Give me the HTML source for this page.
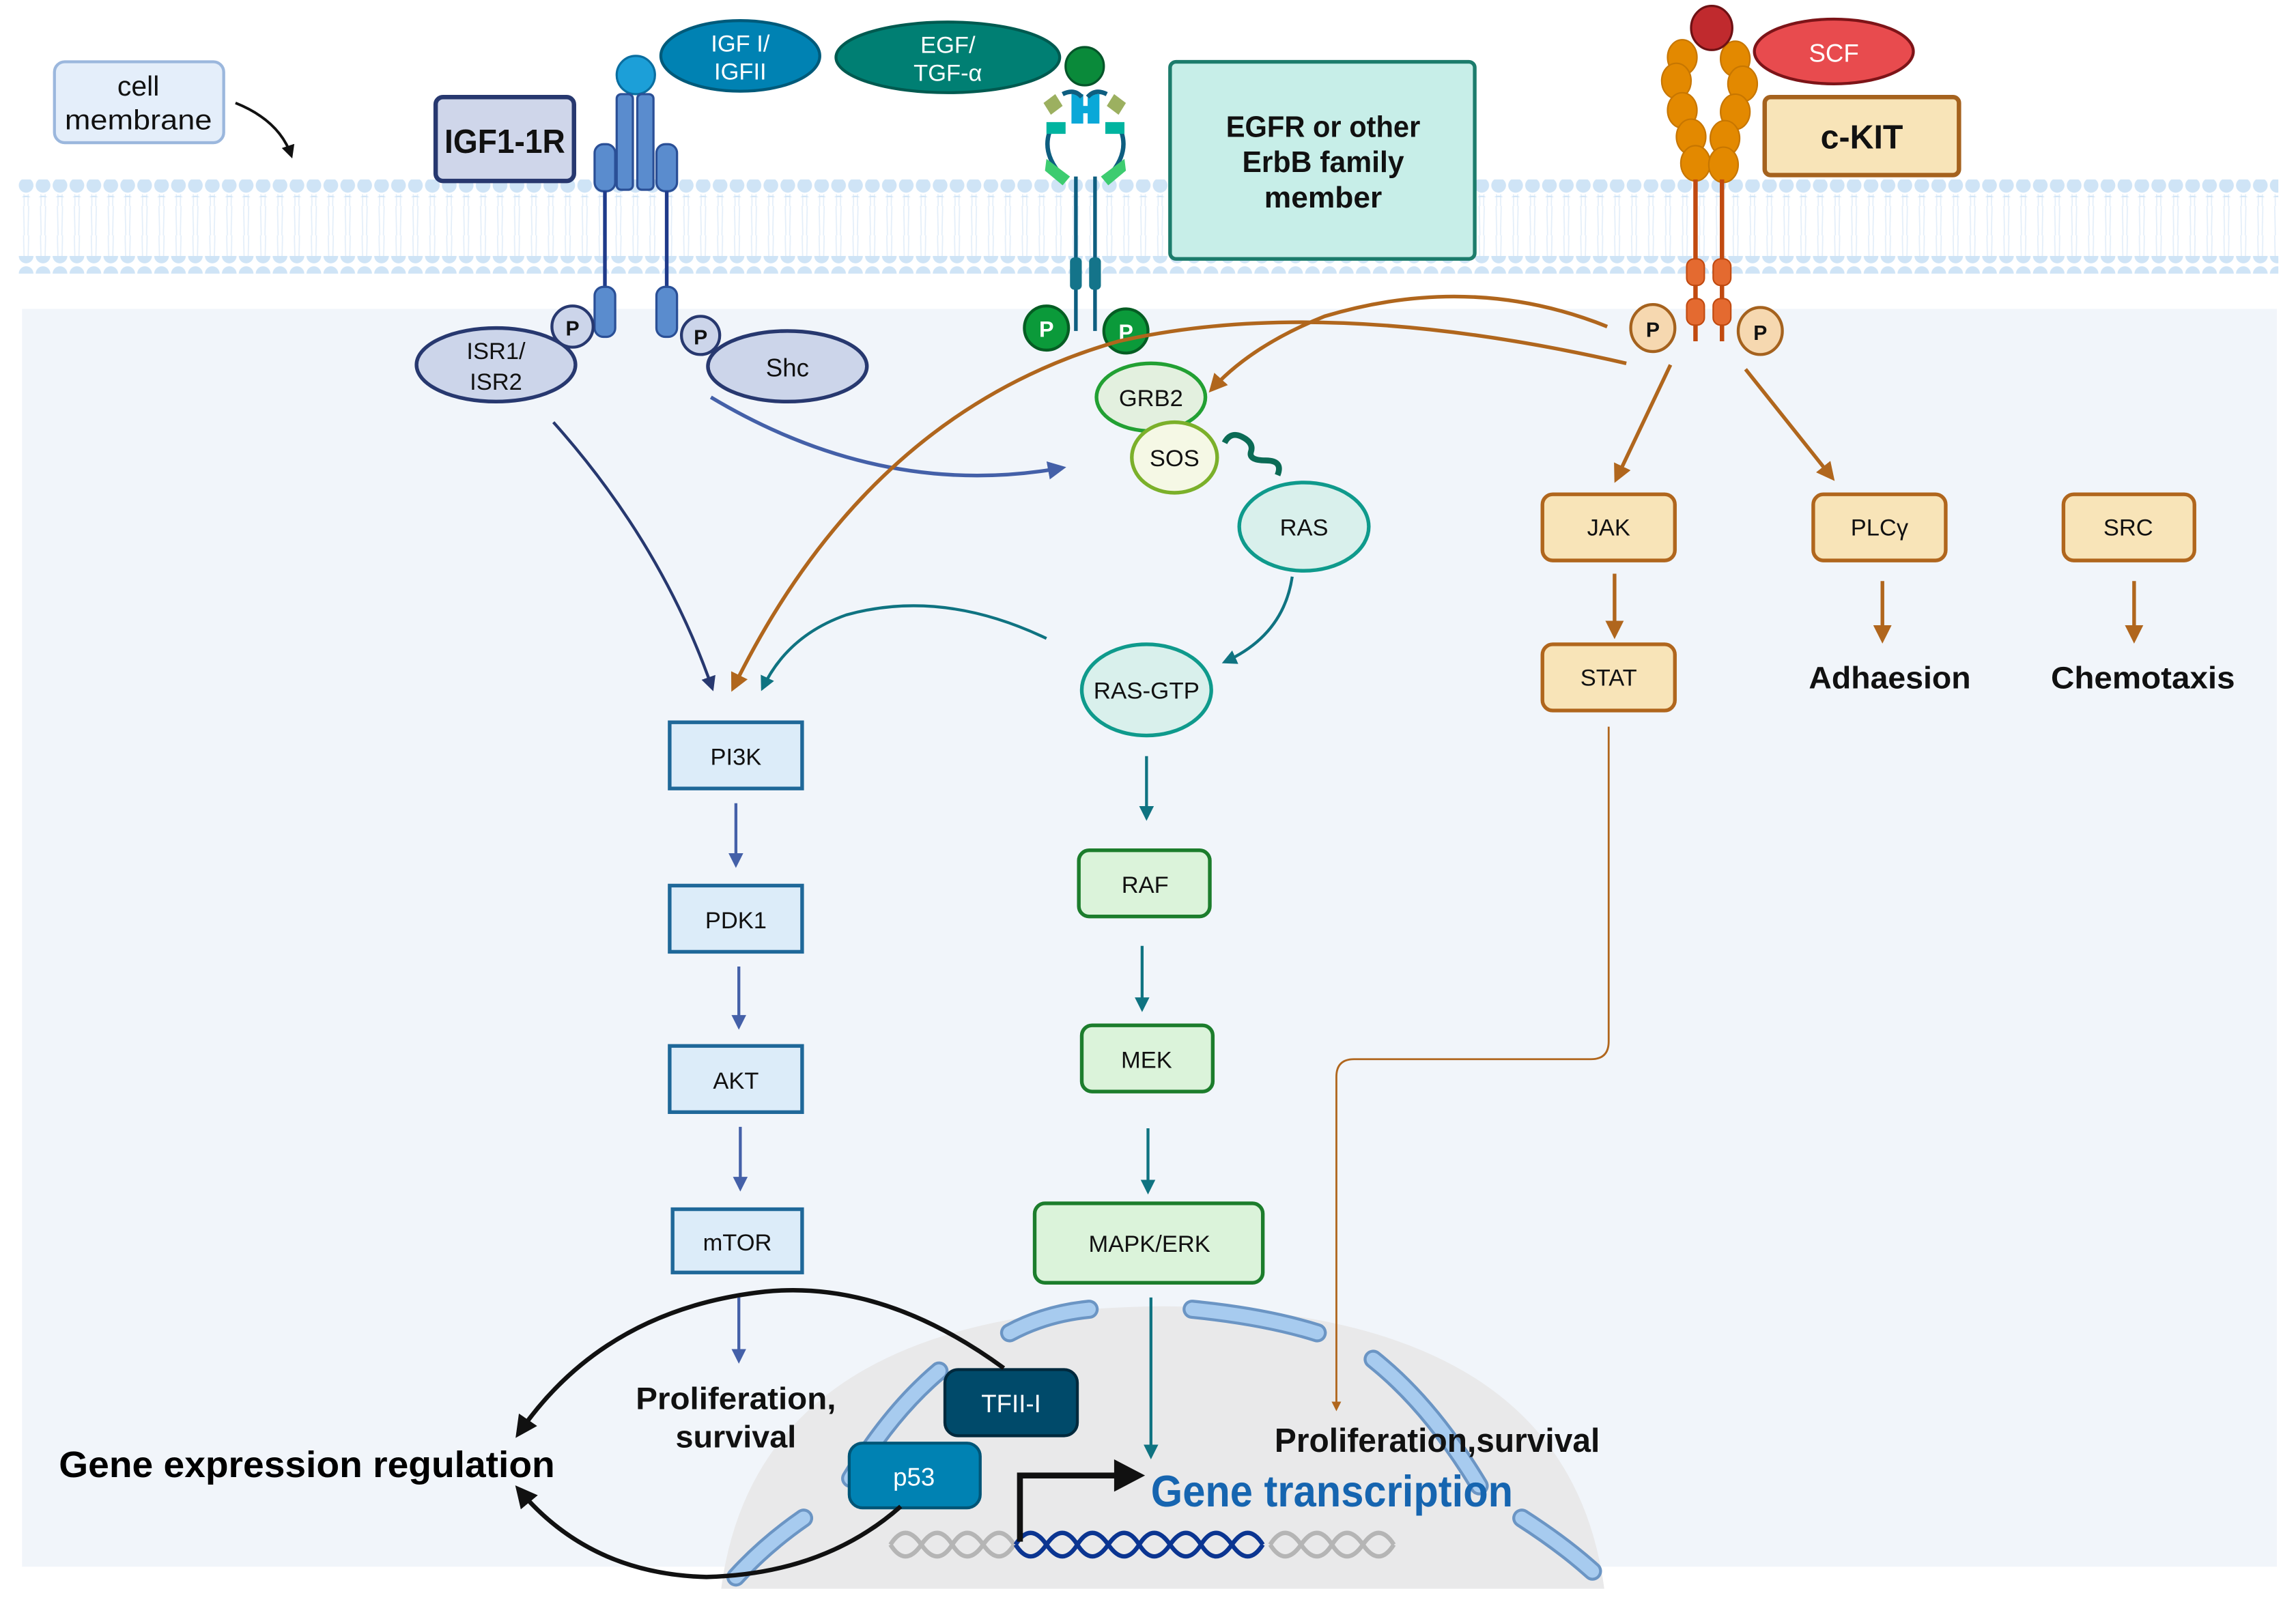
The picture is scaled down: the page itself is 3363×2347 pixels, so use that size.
<!DOCTYPE html>
<html><head><meta charset="utf-8"><style>
html,body{margin:0;padding:0;background:#fff;}
svg{display:block;}
text{font-family:"Liberation Sans Narrow","Liberation Sans",sans-serif;}
</style></head><body>
<svg width="3363" height="2347" viewBox="0 0 1560 1089" preserveAspectRatio="none" xmlns="http://www.w3.org/2000/svg">
<defs>
<pattern id="dots" x="12" y="0" width="11.5" height="12" patternUnits="userSpaceOnUse">
<circle cx="5.75" cy="6" r="5" fill="#cfe4f6"/>
</pattern>
<pattern id="tails" x="12" y="0" width="11.5" height="40" patternUnits="userSpaceOnUse">
<path d="M4 0 L4.5 20 M7.5 0 L7 20 M4 20 L4.5 40 M7.5 20 L7 40" stroke="#e3eef9" stroke-width="0.8" fill="none"/>
</pattern>
<marker id="mNavy" viewBox="0 0 10 10" refX="8" refY="5" markerWidth="5" markerHeight="5" orient="auto"><path d="M0 0L10 5L0 10z" fill="#27386f"/></marker>
<marker id="mBlue" viewBox="0 0 10 10" refX="8" refY="5" markerWidth="5" markerHeight="5" orient="auto"><path d="M0 0L10 5L0 10z" fill="#4460a8"/></marker>
<marker id="mTeal" viewBox="0 0 10 10" refX="8" refY="5" markerWidth="5" markerHeight="5" orient="auto"><path d="M0 0L10 5L0 10z" fill="#0f7381"/></marker>
<marker id="mBr" viewBox="0 0 10 10" refX="8" refY="5" markerWidth="5" markerHeight="5" orient="auto"><path d="M0 0L10 5L0 10z" fill="#b0661d"/></marker>
<marker id="mBk" viewBox="0 0 10 10" refX="8" refY="5" markerWidth="5" markerHeight="5" orient="auto"><path d="M0 0L10 5L0 10z" fill="#111"/></marker>
</defs>

<rect x="15" y="210" width="1532" height="855" fill="#f1f5fa"/>
<rect x="12" y="132" width="1536" height="44" fill="url(#tails)"/>
<rect x="12" y="122" width="1536" height="12" fill="url(#dots)"/>
<rect x="12" y="174" width="1536" height="12" fill="url(#dots)"/>

<!-- nucleus -->
<path d="M490 1080 Q515 890 790 888 Q1065 890 1090 1080 Z" fill="#e9e9ea"/>
<g fill="none" stroke-linecap="round">
<g stroke="#6b95c4" stroke-width="13">
<path d="M686 906 Q710 893 740 890"/><path d="M810 890 Q860 895 895 906"/>
<path d="M638 932 Q605 960 578 1005"/><path d="M933 924 Q972 955 1005 1010"/>
<path d="M546 1032 Q520 1050 500 1072"/><path d="M1034 1032 Q1062 1050 1082 1068"/>
</g>
<g stroke="#a7cbef" stroke-width="9">
<path d="M686 906 Q710 893 740 890"/><path d="M810 890 Q860 895 895 906"/>
<path d="M638 932 Q605 960 578 1005"/><path d="M933 924 Q972 955 1005 1010"/>
<path d="M546 1032 Q520 1050 500 1072"/><path d="M1034 1032 Q1062 1050 1082 1068"/>
</g>
</g>
<g fill="none" stroke-width="3">
<path d="M605 1050 q10 -16 21 0 t21 0 t21 0 t21 0 M605 1050 q10 16 21 0 t21 0 t21 0 t21 0" stroke="#b5b5b5"/>
<path d="M863 1050 q10 -16 21 0 t21 0 t21 0 t21 0 M863 1050 q10 16 21 0 t21 0 t21 0 t21 0" stroke="#b5b5b5"/>
<path d="M690 1050 q10 -16 21 0 t21 0 t21 0 t21 0 t21 0 t21 0 t21 0 t21 0 M690 1050 q10 16 21 0 t21 0 t21 0 t21 0 t21 0 t21 0 t21 0 t21 0" stroke="#0b3591"/>
</g>
<path d="M693 1048 V1003 H760" stroke="#111" stroke-width="4" fill="none"/>
<path d="M757 992 L778 1003 L757 1014Z" fill="#111"/>
<text x="782" y="1024" font-size="30" font-weight="bold" fill="#1665b0" textLength="246" lengthAdjust="spacingAndGlyphs">Gene transcription</text>
<text x="866" y="987" font-size="23" font-weight="bold" fill="#111" textLength="221" lengthAdjust="spacingAndGlyphs">Proliferation,survival</text>

<rect x="642" y="931" width="90" height="45" rx="9" fill="#004a6a" stroke="#00293d" stroke-width="2"/>
<text x="687" y="960" font-size="17" fill="#fff" text-anchor="middle">TFII-I</text>
<rect x="577" y="981" width="89" height="44" rx="9" fill="#0082b3" stroke="#005577" stroke-width="2"/>
<text x="621" y="1010" font-size="17" fill="#fff" text-anchor="middle">p53</text>

<text x="40" y="1004" font-size="25" font-weight="bold" fill="#000" textLength="337" lengthAdjust="spacingAndGlyphs">Gene expression regulation</text>
<path d="M682 930 Q600 870 520 878 Q410 890 352 975" stroke="#111" stroke-width="3" fill="none" marker-end="url(#mBk)"/>
<path d="M612 1024 Q560 1070 480 1072 Q400 1070 352 1012" stroke="#111" stroke-width="3" fill="none" marker-end="url(#mBk)"/>

<rect x="37" y="42" width="115" height="55" rx="7" fill="#e4eefa" stroke="#9bb7dd" stroke-width="2"/>
<text x="94" y="65" font-size="19" text-anchor="middle" fill="#111">cell</text>
<text x="94" y="88" font-size="19" text-anchor="middle" fill="#111" textLength="100" lengthAdjust="spacingAndGlyphs">membrane</text>
<path d="M160 70 Q190 82 198 106" stroke="#111" stroke-width="1.8" fill="none" marker-end="url(#mBk)"/>

<rect x="296" y="66" width="94" height="57" rx="5" fill="#cfd6ea" stroke="#27386f" stroke-width="3"/>
<text x="343" y="104" font-size="23" font-weight="bold" text-anchor="middle" fill="#111" textLength="82" lengthAdjust="spacingAndGlyphs">IGF1-1R</text>
<ellipse cx="503" cy="38" rx="54" ry="24" fill="#0082b3" stroke="#005a7a" stroke-width="2"/>
<text x="503" y="35" font-size="16" fill="#fff" text-anchor="middle">IGF I/</text>
<text x="503" y="54" font-size="16" fill="#fff" text-anchor="middle">IGFII</text>
<ellipse cx="644" cy="39" rx="76" ry="24" fill="#007f73" stroke="#005a50" stroke-width="2"/>
<text x="644" y="36" font-size="16" fill="#fff" text-anchor="middle">EGF/</text>
<text x="644" y="55" font-size="16" fill="#fff" text-anchor="middle">TGF-α</text>
<circle cx="432" cy="51" r="13" fill="#1c9fd8" stroke="#0a6ea0" stroke-width="1.5"/>
<rect x="419" y="64" width="11" height="65" rx="3" fill="#5a8cce" stroke="#2a4f96" stroke-width="1.5"/>
<rect x="433" y="64" width="11" height="65" rx="3" fill="#5a8cce" stroke="#2a4f96" stroke-width="1.5"/>
<rect x="404" y="98" width="14" height="32" rx="6" fill="#5a8cce" stroke="#2a4f96" stroke-width="1.5"/>
<rect x="446" y="98" width="14" height="32" rx="6" fill="#5a8cce" stroke="#2a4f96" stroke-width="1.5"/>
<path d="M411 130 V195 M453 130 V195" stroke="#1f3a8a" stroke-width="2.5"/>
<rect x="404" y="195" width="14" height="34" rx="6" fill="#5a8cce" stroke="#2a4f96" stroke-width="1.5"/>
<rect x="446" y="195" width="14" height="34" rx="6" fill="#5a8cce" stroke="#2a4f96" stroke-width="1.5"/>
<ellipse cx="337" cy="248" rx="54" ry="25" fill="#ccd5ea" stroke="#27386f" stroke-width="2.5"/>
<text x="337" y="244" font-size="16" text-anchor="middle" fill="#111">ISR1/</text>
<text x="337" y="265" font-size="16" text-anchor="middle" fill="#111">ISR2</text>
<circle cx="389" cy="222" r="14" fill="#ccd5ea" stroke="#27386f" stroke-width="2"/>
<text x="389" y="228" font-size="14" font-weight="bold" text-anchor="middle" fill="#111">P</text>
<ellipse cx="535" cy="249" rx="54" ry="24" fill="#ccd5ea" stroke="#27386f" stroke-width="2.5"/>
<text x="535" y="256" font-size="17" text-anchor="middle" fill="#111">Shc</text>
<circle cx="476" cy="228" r="13" fill="#ccd5ea" stroke="#27386f" stroke-width="2"/>
<text x="476" y="234" font-size="14" font-weight="bold" text-anchor="middle" fill="#111">P</text>

<!-- EGFR receptor -->
<circle cx="737" cy="45" r="13" fill="#0a8a3a" stroke="#05552a" stroke-width="1.5"/>
<rect x="728" y="64" width="8" height="20" fill="#0aa8d8"/><rect x="739" y="64" width="8" height="20" fill="#0aa8d8"/>
<rect x="729" y="72" width="17" height="5" fill="#0aa8d8"/>
<path d="M722 64 Q730 60 735 66 M752 64 Q744 60 739 66" stroke="#0e5e80" stroke-width="3" fill="none"/>
<path d="M709 70 L717 64 L722 72 L714 78Z M765 70 L757 64 L752 72 L760 78Z" fill="#9cb060"/>
<path d="M713 90 Q708 105 722 120 M762 90 Q767 105 753 120" stroke="#0e5e80" stroke-width="3" fill="none"/>
<rect x="711" y="83" width="13" height="8" fill="#00b4a0"/><rect x="751" y="83" width="13" height="8" fill="#00b4a0"/>
<path d="M711 108 L727 120 L722 126 L710 116Z M764 108 L748 120 L753 126 L765 116Z" fill="#3dcc70"/>
<path d="M731 120 V225 M744 120 V225" stroke="#0e5e80" stroke-width="2.5"/>
<rect x="727" y="175" width="8" height="22" rx="3" fill="#14748a"/><rect x="740" y="175" width="8" height="22" rx="3" fill="#14748a"/>
<circle cx="711" cy="223" r="15" fill="#0b9a3a" stroke="#055d23" stroke-width="2"/>
<text x="711" y="229" font-size="15" font-weight="bold" fill="#fff" text-anchor="middle">P</text>
<circle cx="765" cy="225" r="15" fill="#0b9a3a" stroke="#055d23" stroke-width="2"/>
<text x="765" y="231" font-size="15" font-weight="bold" fill="#fff" text-anchor="middle">P</text>
<rect x="795" y="42" width="207" height="134" rx="4" fill="#c7eee8" stroke="#1c7c6c" stroke-width="2.5"/>
<text x="899" y="93" font-size="20" font-weight="bold" text-anchor="middle" fill="#111" textLength="132" lengthAdjust="spacingAndGlyphs">EGFR or other</text>
<text x="899" y="117" font-size="20" font-weight="bold" text-anchor="middle" fill="#111" textLength="110" lengthAdjust="spacingAndGlyphs">ErbB family</text>
<text x="899" y="141" font-size="20" font-weight="bold" text-anchor="middle" fill="#111" textLength="80" lengthAdjust="spacingAndGlyphs">member</text>

<!-- c-KIT receptor -->
<g fill="#e38900" stroke="#c77600" stroke-width="1">
<ellipse cx="1143" cy="39" rx="10" ry="12"/><ellipse cx="1179" cy="40" rx="10" ry="12"/>
<ellipse cx="1139" cy="55" rx="10" ry="12"/><ellipse cx="1184" cy="57" rx="10" ry="12"/>
<ellipse cx="1143" cy="75" rx="10" ry="12"/><ellipse cx="1179" cy="76" rx="10" ry="12"/>
<ellipse cx="1149" cy="93" rx="10" ry="12"/><ellipse cx="1172" cy="94" rx="10" ry="12"/>
<ellipse cx="1152" cy="111" rx="10" ry="12"/><ellipse cx="1171" cy="112" rx="10" ry="12"/>
</g>
<ellipse cx="1163" cy="19" rx="14" ry="15" fill="#c02a2e" stroke="#6e1114" stroke-width="1.5"/>
<path d="M1152 122 V232 M1170 122 V232" stroke="#c14a10" stroke-width="3"/>
<rect x="1146" y="176" width="12" height="18" rx="5" fill="#e46a30" stroke="#c14a10"/>
<rect x="1164" y="176" width="12" height="18" rx="5" fill="#e46a30" stroke="#c14a10"/>
<rect x="1146" y="203" width="12" height="18" rx="5" fill="#e46a30" stroke="#c14a10"/>
<rect x="1164" y="203" width="12" height="18" rx="5" fill="#e46a30" stroke="#c14a10"/>
<ellipse cx="1246" cy="35" rx="54" ry="22" fill="#e84b4e" stroke="#7d1418" stroke-width="2"/>
<text x="1246" y="42" font-size="17" fill="#fff" text-anchor="middle">SCF</text>
<rect x="1199" y="66" width="132" height="53" rx="4" fill="#f8e4b8" stroke="#a5621e" stroke-width="3"/>
<text x="1265" y="101" font-size="23" font-weight="bold" text-anchor="middle" fill="#111" textLength="56" lengthAdjust="spacingAndGlyphs">c-KIT</text>
<ellipse cx="1123" cy="223" rx="15" ry="16" fill="#f6d8b0" stroke="#a5621e" stroke-width="2"/>
<text x="1123" y="229" font-size="14" font-weight="bold" text-anchor="middle" fill="#111">P</text>
<ellipse cx="1196" cy="225" rx="15" ry="16" fill="#f6d8b0" stroke="#a5621e" stroke-width="2"/>
<text x="1196" y="231" font-size="14" font-weight="bold" text-anchor="middle" fill="#111">P</text>

<!-- GRB2 / SOS / RAS -->
<path d="M832 301 q4 -8 12 -4 t6 10 t10 6 t8 10" stroke="#0b6b55" stroke-width="4" fill="none"/>
<ellipse cx="782" cy="270" rx="37" ry="23" fill="#e3f0df" stroke="#22a033" stroke-width="2.5"/>
<text x="782" y="276" font-size="16" text-anchor="middle" fill="#111">GRB2</text>
<ellipse cx="798" cy="311" rx="29" ry="24" fill="#f5f8e5" stroke="#7bb02a" stroke-width="2.5"/>
<text x="798" y="317" font-size="16" text-anchor="middle" fill="#111">SOS</text>
<ellipse cx="886" cy="358" rx="44" ry="30" fill="#d9f0ec" stroke="#0f9a8c" stroke-width="2.5"/>
<text x="886" y="364" font-size="16" text-anchor="middle" fill="#111">RAS</text>
<ellipse cx="779" cy="469" rx="44" ry="31" fill="#d9f0ec" stroke="#0f9a8c" stroke-width="2.5"/>
<text x="779" y="475" font-size="16" text-anchor="middle" fill="#111" textLength="72" lengthAdjust="spacingAndGlyphs">RAS-GTP</text>

<g fill="#dcecf9" stroke="#1f6899" stroke-width="2.5">
<rect x="455" y="491" width="90" height="45"/><rect x="455" y="602" width="90" height="45"/>
<rect x="455" y="711" width="90" height="45"/><rect x="457" y="822" width="88" height="43"/>
</g>
<g font-size="16" text-anchor="middle" fill="#111">
<text x="500" y="520">PI3K</text><text x="500" y="631">PDK1</text>
<text x="500" y="740">AKT</text><text x="501" y="850">mTOR</text>
</g>
<g stroke="#4460a8" stroke-width="2" fill="none" marker-end="url(#mBlue)">
<path d="M500 546 V588"/><path d="M502 657 V698"/><path d="M503 766 V808"/><path d="M502 882 V925"/>
</g>
<text x="500" y="958" font-size="21" font-weight="bold" text-anchor="middle" fill="#111" textLength="136" lengthAdjust="spacingAndGlyphs">Proliferation,</text>
<text x="500" y="984" font-size="21" font-weight="bold" text-anchor="middle" fill="#111" textLength="82" lengthAdjust="spacingAndGlyphs">survival</text>

<g fill="#dbf3da" stroke="#1c7d2c" stroke-width="2.5">
<rect x="733" y="578" width="89" height="45" rx="7"/><rect x="735" y="697" width="89" height="45" rx="7"/>
<rect x="703" y="818" width="155" height="54" rx="7"/>
</g>
<g font-size="16" text-anchor="middle" fill="#111">
<text x="778" y="607">RAF</text><text x="779" y="726">MEK</text><text x="781" y="851">MAPK/ERK</text>
</g>
<g stroke="#0f7381" stroke-width="2" fill="none" marker-end="url(#mTeal)">
<path d="M779 514 V556"/><path d="M776 643 V686"/><path d="M780 767 V810"/><path d="M782 882 V990"/>
<path d="M878 392 Q872 432 832 450"/>
<path d="M711 434 Q640 400 575 418 Q535 432 518 468"/>
</g>

<path d="M376 287 Q450 370 484 468" stroke="#27386f" stroke-width="2" fill="none" marker-end="url(#mNavy)"/>
<path d="M483 270 Q600 340 722 318" stroke="#4460a8" stroke-width="2.5" fill="none" marker-end="url(#mBlue)"/>

<g stroke="#b0661d" stroke-width="2.5" fill="none" marker-end="url(#mBr)">
<path d="M1105 247 Q900 200 760 232 Q590 280 498 468"/>
<path d="M1092 222 Q1000 185 900 215 Q850 235 823 265"/>
<path d="M1135 248 L1098 326"/>
<path d="M1186 251 L1245 325"/>
<path d="M1097 390 V432"/><path d="M1279 395 V435"/><path d="M1450 395 V435"/>
</g>
<path d="M1093 494 V708 Q1093 720 1081 720 H920 Q908 720 908 732 V958" stroke="#b0661d" stroke-width="1.3" fill="none" marker-end="url(#mBr)"/>

<g fill="#f8e4b8" stroke="#b0661d" stroke-width="2.5">
<rect x="1048" y="336" width="90" height="45" rx="7"/><rect x="1232" y="336" width="90" height="45" rx="7"/>
<rect x="1402" y="336" width="89" height="45" rx="7"/><rect x="1048" y="438" width="90" height="45" rx="7"/>
</g>
<g font-size="16" text-anchor="middle" fill="#111">
<text x="1093" y="364">JAK</text><text x="1277" y="364">PLCγ</text><text x="1446" y="364">SRC</text><text x="1093" y="466">STAT</text>
</g>
<text x="1284" y="468" font-size="21" font-weight="bold" text-anchor="middle" fill="#111" textLength="110" lengthAdjust="spacingAndGlyphs">Adhaesion</text>
<text x="1456" y="468" font-size="21" font-weight="bold" text-anchor="middle" fill="#111" textLength="125" lengthAdjust="spacingAndGlyphs">Chemotaxis</text>
</svg>
</body></html>
